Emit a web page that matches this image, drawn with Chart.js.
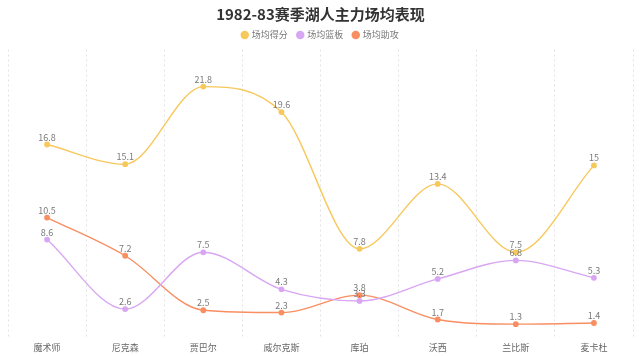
<!DOCTYPE html>
<html>
<head>
<meta charset="utf-8">
<script src="https://cdn.jsdelivr.net/npm/chart.js@4/dist/chart.umd.min.js"></script>
<style>
html,body{margin:0;padding:0;background:#fff;}
#wrap{width:640px;height:356px;position:relative;}
</style>
</head>
<body>
<div id="wrap"><canvas id="c" width="640" height="356"></canvas></div>
<script>
const players = ['魔术师','尼克森','贾巴尔','威尔克斯','库珀','沃西','兰比斯','麦卡杜'];
const points = [16.8, 15.1, 21.8, 19.6, 7.8, 13.4, 7.5, 15];
const rebounds = [8.6, 2.6, 7.5, 4.3, 3.3, 5.2, 6.8, 5.3];
const assists = [10.5, 7.2, 2.5, 2.3, 3.8, 1.7, 1.3, 1.4];
const seriesNames = ['场均得分','场均篮板','场均助攻'];
const colors = ['#f7c85c','#d8a6f2','#f88e62'];
const FONT = '"Noto Sans CJK SC","Noto Sans",sans-serif';

const valueLabels = {
  id: 'valueLabels',
  afterDatasetsDraw(chart) {
    const ctx = chart.ctx;
    ctx.save();
    ctx.font = '9px ' + FONT;
    ctx.fillStyle = '#7a7a7a';
    ctx.textAlign = 'center';
    ctx.textBaseline = 'alphabetic';
    chart.data.datasets.forEach((ds, i) => {
      const meta = chart.getDatasetMeta(i);
      meta.data.forEach((pt, j) => {
        ctx.fillText(String(ds.data[j]), pt.x, pt.y - 4);
      });
    });
    ctx.restore();
  }
};

const datasets = [points, rebounds, assists].map((d, i) => ({
  label: seriesNames[i],
  data: d,
  borderColor: colors[i],
  backgroundColor: colors[i],
  borderWidth: 1.4,
  pointRadius: 2.2,
  pointHoverRadius: 2.2,
  cubicInterpolationMode: 'monotone',
  fill: false
}));

new Chart(document.getElementById('c'), {
  type: 'line',
  data: { labels: players, datasets },
  options: {
    responsive: false,
    animation: false,
    layout: { padding: { left: 8, right: 7, top: 0, bottom: 0 } },
    plugins: {
      title: {
        display: true,
        text: '1982-83赛季湖人主力场均表现',
        color: '#333',
        font: { family: FONT, size: 15, weight: 'bold' },
        padding: { top: 5, bottom: -2.5 }
      },
      legend: {
        display: true,
        labels: {
          usePointStyle: true,
          pointStyle: 'circle',
          boxWidth: 5,
          boxHeight: 5,
          color: '#777',
          font: { family: FONT, size: 9 },
          padding: 10
        }
      },
      tooltip: { enabled: false }
    },
    scales: {
      x: {
        offset: true,
        grid: {
          display: true,
          offset: true,
          color: '#e3e3e3',
          drawTicks: false
        },
        border: { display: false, dash: [2, 3] },
        ticks: { color: '#666', font: { family: FONT, size: 9 }, padding: 3 }
      },
      y: {
        display: false,
        min: 0,
        max: 25
      }
    }
  },
  plugins: [valueLabels]
});
</script>
</body>
</html>
